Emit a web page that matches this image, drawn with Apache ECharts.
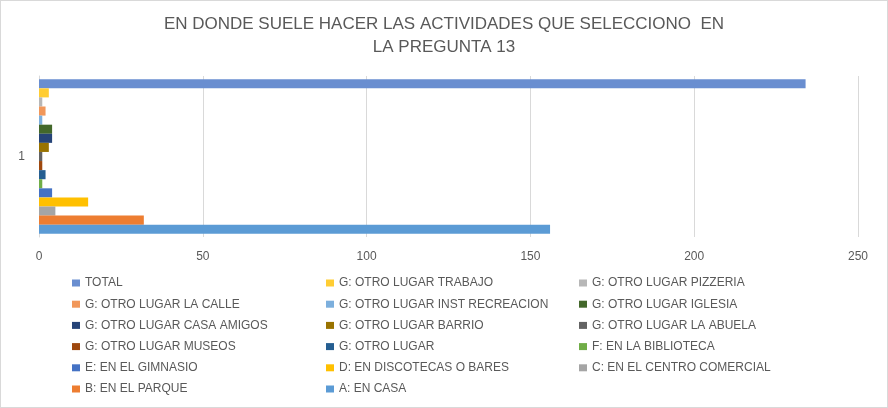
<!DOCTYPE html>
<html><head><meta charset="utf-8">
<script src="https://cdn.jsdelivr.net/npm/echarts@6/dist/echarts.min.js"></script>
<style>html,body{margin:0;padding:0;background:#fff}#c{width:886px;height:406px;border:1px solid #d9d9d9}</style>
</head><body><div id="c"></div>
<script>
const categories = ['1'];
// series listed top-to-bottom as drawn
const seriesNames = [
  'TOTAL','G: OTRO LUGAR TRABAJO','G: OTRO LUGAR PIZZERIA','G: OTRO LUGAR LA CALLE',
  'G: OTRO LUGAR INST RECREACION','G: OTRO LUGAR IGLESIA','G: OTRO LUGAR CASA AMIGOS','G: OTRO LUGAR BARRIO',
  'G: OTRO LUGAR LA ABUELA','G: OTRO LUGAR MUSEOS','G: OTRO LUGAR','F: EN LA BIBLIOTECA',
  'E: EN EL GIMNASIO','D: EN DISCOTECAS O BARES','C: EN EL CENTRO COMERCIAL','B: EN EL PARQUE','A: EN CASA'
];
const seriesValues = [234, 3, 1, 2, 1, 4, 4, 3, 1, 1, 2, 1, 4, 15, 5, 32, 156];
const seriesColors = [
  '#698ED0','#FFCD33','#B7B7B7','#F1975A','#7CAFDD','#43682B','#264478','#997300',
  '#636363','#9E480E','#255E91','#70AD47','#4472C4','#FFC000','#A5A5A5','#ED7D31','#5B9BD5'
];
const xTicks = {min:0, max:250, interval:50};
const legendCol1 = ['TOTAL','G: OTRO LUGAR LA CALLE','G: OTRO LUGAR CASA AMIGOS','G: OTRO LUGAR MUSEOS','E: EN EL GIMNASIO','B: EN EL PARQUE'];
const legendCol2 = ['G: OTRO LUGAR TRABAJO','G: OTRO LUGAR INST RECREACION','G: OTRO LUGAR BARRIO','G: OTRO LUGAR','D: EN DISCOTECAS O BARES','A: EN CASA'];
const legendCol3 = ['G: OTRO LUGAR PIZZERIA','G: OTRO LUGAR IGLESIA','G: OTRO LUGAR LA ABUELA','F: EN LA BIBLIOTECA','C: EN EL CENTRO COMERCIAL'];

const txt = '#595959';
const mkLegend = (data, left) => ({
  data, left, top: 271, orient: 'vertical', itemGap: 9.2, itemWidth: 8, itemHeight: 7,
  icon: 'rect', selectedMode: false,
  textStyle: {color: txt, fontSize: 12, fontFamily: 'Liberation Sans'}
});
const chart = echarts.init(document.getElementById('c'));
chart.setOption({
  animation: false,
  title: {
    text: 'EN DONDE SUELE HACER LAS ACTIVIDADES QUE SELECCIONO  EN\nLA PREGUNTA 13',
    left: 'center', top: 7,
    textStyle: {color: txt, fontSize: 17, fontWeight: 'normal', fontFamily: 'Liberation Sans', lineHeight: 23}
  },
  legend: [mkLegend(legendCol1, 66), mkLegend(legendCol2, 320), mkLegend(legendCol3, 573)],
  grid: {left: 38, right: 29, top: 75, bottom: 170},
  xAxis: {
    type: 'value', min: xTicks.min, max: xTicks.max, interval: xTicks.interval,
    axisLine: {show: false}, axisTick: {show: false},
    splitLine: {lineStyle: {color: '#d9d9d9'}},
    axisLabel: {color: txt, fontSize: 12, fontFamily: 'Liberation Sans', margin: 14}
  },
  yAxis: {
    type: 'category', data: categories, inverse: true,
    axisLine: {show: true, lineStyle: {color: '#d9d9d9'}}, axisTick: {show: false},
    axisLabel: {color: txt, fontSize: 12, fontFamily: 'Liberation Sans', margin: 14}
  },
  series: seriesNames.map((n, i) => ({
    name: n, type: 'bar', data: [seriesValues[i]], barGap: '0%', barCategoryGap: '4%',
    itemStyle: {color: seriesColors[i]}
  }))
});
</script></body></html>
